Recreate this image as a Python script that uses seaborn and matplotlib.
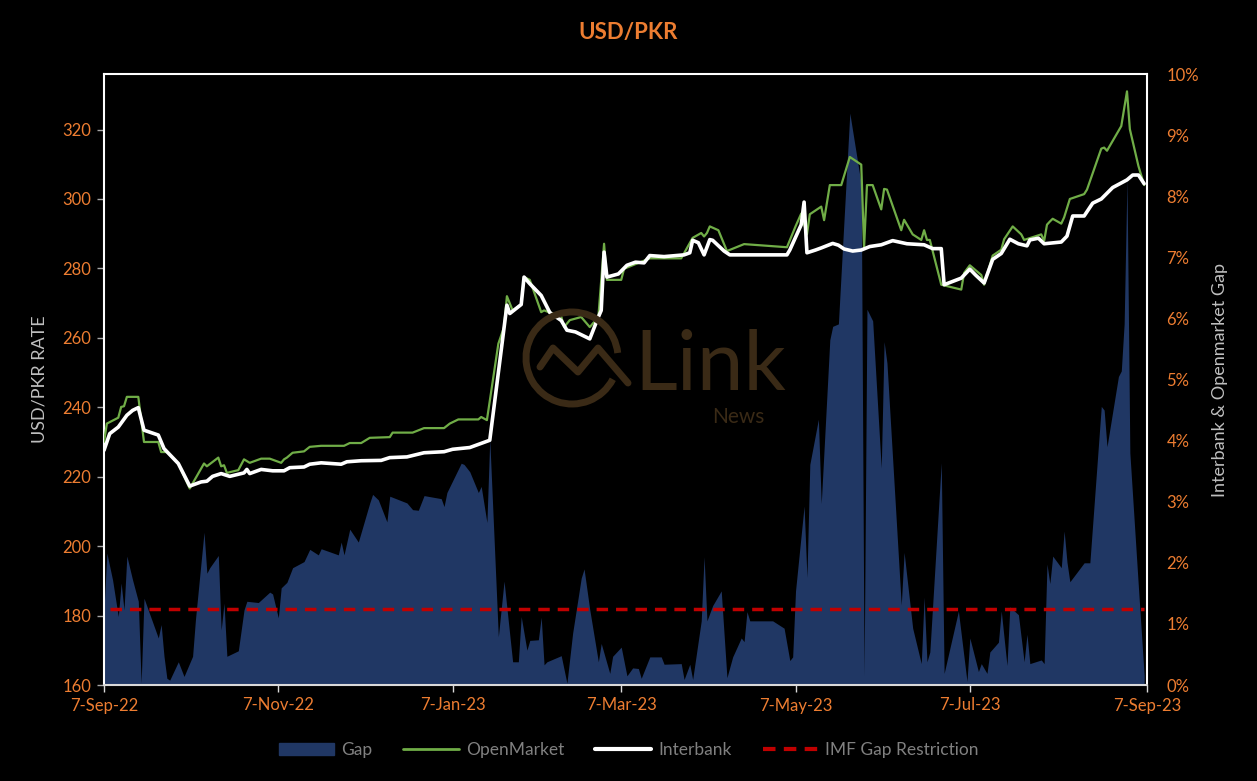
import numpy as np
import pandas as pd
import matplotlib
matplotlib.use("Agg")
import matplotlib.pyplot as plt
from matplotlib.patches import Patch, Arc
from matplotlib.lines import Line2D
import seaborn as sns

START = pd.Timestamp("2022-09-07")

# interbank rate (days after 7-Sep-22, PKR per USD)
inter_day = [0, 2, 5, 8, 10, 12, 14, 19, 21, 26, 30, 34, 36, 38, 41, 44, 49, 50, 51, 55,
             59, 63, 65, 70, 72, 76, 83, 85, 90, 97, 100, 106, 112, 119, 122, 128, 135, 139, 141, 142,
             146, 147, 149, 153, 156, 160, 162, 165, 170, 173, 174, 175, 176, 180, 183, 186, 189, 191, 196, 203,
             205, 206, 208, 210, 212, 213, 217, 219, 239, 240, 244, 245, 246, 249, 251, 255, 257, 259, 262, 265,
             268, 272, 276, 281, 287, 290, 293, 294, 300, 303, 305, 308, 311, 314, 317, 320, 323, 324, 327, 329,
             335, 337, 339, 343, 346, 349, 353, 358, 360, 362, 364]
inter_rate = [227.6, 232.4, 234.3, 237.7, 239.1, 239.9, 233.4, 232.0, 228.1, 223.8, 217.3, 218.5, 218.7, 220.1, 220.9, 220.1, 221.1, 222.1, 220.9, 222.1,
              221.7, 221.7, 222.6, 222.8, 223.6, 224.0, 223.6, 224.3, 224.6, 224.7, 225.5, 225.7, 226.9, 227.2, 227.9, 228.4, 230.5, 256.4, 269.4, 267.0,
              269.6, 277.5, 275.6, 272.2, 267.3, 265.0, 262.2, 261.7, 259.7, 266.0, 267.9, 284.7, 277.5, 278.4, 280.9, 281.8, 281.6, 283.7, 283.4, 283.9,
              284.5, 288.1, 287.4, 283.9, 288.3, 288.1, 285.0, 283.9, 283.9, 285.3, 292.6, 299.1, 284.5, 285.3, 285.9, 287.2, 286.7, 285.6, 285.0, 285.3,
              286.3, 286.8, 288.0, 287.1, 286.8, 285.7, 285.7, 275.3, 277.2, 279.8, 278.1, 275.8, 282.6, 284.3, 288.4, 287.1, 286.5, 288.2, 288.7, 287.1,
              287.6, 289.3, 295.1, 295.1, 298.8, 300.0, 303.3, 305.5, 306.9, 306.9, 304.4]

# open market rate
open_day = [0, 1, 5, 6, 7, 8, 12, 14, 19, 20, 22, 26, 30, 33, 35, 36, 40, 41, 42, 43,
            47, 49, 51, 55, 58, 62, 63, 64, 66, 70, 72, 76, 84, 86, 90, 93, 100, 101, 108, 112,
            119, 121, 124, 131, 132, 134, 138, 140, 141, 143, 146, 147, 149, 153, 154, 156, 160, 161, 163, 167,
            170, 173, 175, 176, 181, 182, 191, 202, 206, 209, 210, 211, 212, 215, 218, 224, 239, 242, 244, 246,
            247, 251, 252, 254, 258, 261, 265, 266, 267, 269, 272, 273, 274, 279, 280, 283, 286, 287, 288, 289,
            293, 300, 301, 303, 307, 308, 311, 314, 315, 318, 321, 322, 328, 329, 330, 331, 332, 335, 336, 338,
            343, 344, 349, 350, 351, 356, 358, 359, 362, 364]
open_rate = [230.0, 235.3, 237.0, 240.1, 240.3, 243.0, 243.0, 230.0, 230.0, 227.1, 227.1, 223.8, 216.6, 220.9, 223.8, 223.0, 225.5, 223.0, 223.3, 221.1,
             221.9, 225.0, 224.0, 225.2, 225.2, 224.0, 225.0, 225.5, 226.9, 227.3, 228.6, 228.9, 228.9, 229.7, 229.7, 231.2, 231.4, 232.7, 232.7, 234.0,
             234.0, 235.3, 236.5, 236.5, 237.2, 236.3, 258.3, 263.1, 272.0, 267.9, 269.6, 277.5, 276.7, 267.4, 267.9, 267.3, 266.2, 263.1, 265.1, 266.0,
             263.1, 266.0, 287.1, 276.7, 276.7, 279.9, 282.9, 282.9, 288.8, 290.2, 289.2, 290.2, 292.1, 291.0, 285.0, 287.0, 286.1, 292.1, 295.8, 289.8,
             295.6, 297.8, 293.9, 304.0, 304.0, 312.1, 309.9, 286.1, 304.0, 304.0, 297.0, 302.9, 302.7, 291.0, 294.0, 289.8, 288.2, 291.0, 288.2, 288.2,
             275.3, 273.9, 278.7, 280.9, 278.1, 275.3, 283.7, 285.4, 288.4, 292.1, 289.8, 288.2, 289.8, 287.9, 292.6, 293.5, 294.3, 292.9, 294.7, 300.0,
             301.4, 302.7, 314.5, 314.8, 313.9, 321.0, 331.0, 320.1, 309.5, 304.0]

# interbank / open market gap in %
gap_day = [0, 1, 3, 5, 6, 7, 8, 10, 12, 13, 14, 19, 20, 21, 22, 23, 26, 28, 31, 32,
           35, 36, 37, 40, 41, 42, 43, 47, 49, 50, 54, 58, 59, 61, 62, 64, 66, 70, 72, 75,
           76, 82, 83, 84, 86, 89, 93, 94, 96, 99, 100, 106, 108, 110, 112, 118, 119, 120, 125, 126,
           128, 131, 132, 134, 135, 138, 140, 143, 145, 146, 148, 149, 152, 153, 154, 155, 160, 162, 164, 167,
           168, 170, 173, 174, 177, 178, 181, 183, 185, 187, 188, 191, 195, 196, 202, 203, 205, 206, 209, 210,
           211, 213, 216, 218, 220, 223, 224, 225, 226, 234, 238, 240, 241, 242, 245, 246, 247, 250, 251, 254,
           255, 257, 261, 265, 266, 267, 269, 272, 273, 274, 279, 280, 283, 286, 287, 288, 289, 293, 294, 299,
           302, 303, 306, 307, 309, 310, 313, 314, 316, 317, 320, 322, 323, 324, 328, 329, 330, 331, 332, 335,
           336, 337, 338, 343, 345, 349, 350, 351, 355, 356, 357, 358, 359, 362, 364]
gap_pct = [1.23, 2.16, 1.72, 1.12, 1.67, 1.23, 2.11, 1.72, 1.37, 0.03, 1.42, 0.77, 0.99, 0.47, 0.11, 0.08, 0.38, 0.14, 0.47, 1.07,
           2.50, 1.83, 1.92, 2.12, 0.90, 1.34, 0.47, 0.56, 1.23, 1.37, 1.35, 1.52, 1.49, 1.10, 1.59, 1.68, 1.92, 2.02, 2.22, 2.13,
           2.23, 2.13, 2.34, 2.13, 2.55, 2.34, 2.98, 3.12, 3.03, 2.67, 3.09, 2.98, 2.87, 2.86, 3.10, 3.05, 2.92, 3.15, 3.63, 3.61,
           3.49, 3.15, 3.25, 2.66, 4.02, 0.79, 1.70, 0.38, 0.38, 1.12, 0.57, 0.73, 0.74, 1.11, 0.33, 0.38, 0.48, 0.03, 0.85, 1.75,
           1.90, 1.23, 0.38, 0.68, 0.19, 0.47, 0.62, 0.15, 0.28, 0.27, 0.11, 0.46, 0.46, 0.34, 0.35, 0.09, 0.34, 0.09, 1.05, 2.10,
           1.05, 1.30, 1.54, 0.12, 0.46, 0.77, 0.71, 1.20, 1.05, 1.05, 0.93, 0.40, 0.46, 1.54, 2.93, 1.76, 3.61, 4.35, 2.97, 5.65,
           5.87, 5.91, 9.36, 8.19, 0.15, 6.15, 5.96, 3.55, 5.62, 5.27, 1.31, 2.17, 0.93, 0.35, 1.44, 0.38, 0.54, 3.64, 0.19, 1.21,
           0.06, 0.77, 0.22, 0.35, 0.19, 0.54, 0.70, 1.21, 0.32, 1.28, 1.15, 0.38, 0.83, 0.35, 0.41, 0.35, 1.98, 1.66, 2.11, 1.92,
           2.52, 2.01, 1.69, 2.00, 2.00, 4.56, 4.50, 3.90, 5.05, 5.14, 5.91, 8.29, 3.80, 1.60, 0.16]

IMF_LIMIT = 1.25

tick_dates = ["2022-09-07", "2022-11-07", "2023-01-07", "2023-03-07", "2023-05-07", "2023-07-07", "2023-09-07"]
tick_labels = ["7-Sep-22", "7-Nov-22", "7-Jan-23", "7-Mar-23", "7-May-23", "7-Jul-23", "7-Sep-23"]

ORANGE = "#ED7D31"
NAVY = "#203764"
GREEN = "#70AD47"
RED = "#C00000"
GREY = "#BFBFBF"
WM = "#3A2A16"

inter_df = pd.DataFrame({"date": START + pd.to_timedelta(inter_day, unit="D"), "rate": inter_rate})
open_df = pd.DataFrame({"date": START + pd.to_timedelta(open_day, unit="D"), "rate": open_rate})
gap_df = pd.DataFrame({"date": START + pd.to_timedelta(gap_day, unit="D"), "gap": gap_pct})
imf_df = pd.DataFrame({"date": [gap_df["date"].iloc[0] + pd.Timedelta(days=2), gap_df["date"].iloc[-1]],
                       "gap": [IMF_LIMIT, IMF_LIMIT]})

sns.set_style("dark", rc={"axes.facecolor": "black", "figure.facecolor": "black"})
plt.rcParams["font.family"] = ["Lato", "DejaVu Sans"]

fig = plt.figure(figsize=(12.57, 7.81), dpi=100)
ax = fig.add_axes([104 / 1257, 1 - 685 / 781, (1147 - 104) / 1257, (685 - 74) / 781])
ax2 = ax.twinx()

# gap area on the secondary axis, behind the rate lines
ax2.fill_between(gap_df["date"], 0, gap_df["gap"], color=NAVY, lw=0, zorder=1)
sns.lineplot(data=imf_df, x="date", y="gap", ax=ax2, color=RED, lw=2.5,
             dashes=False, linestyle=(0, (3.3, 2.3)), zorder=3)

sns.lineplot(data=open_df, x="date", y="rate", ax=ax, color=GREEN, lw=1.6, zorder=3)
sns.lineplot(data=inter_df, x="date", y="rate", ax=ax, color="white", lw=2.6, zorder=4)

ax.set_zorder(ax2.get_zorder() + 1)
ax.patch.set_visible(False)
ax2.set_facecolor("black")

ax.set_xlim(START, pd.Timestamp("2023-09-07"))
ax.set_ylim(160, 336)
ax.set_yticks(range(160, 321, 20))
ax2.set_ylim(0, 10)
ax2.set_yticks(range(0, 11))
ax2.set_yticklabels([f"{v}%" for v in range(0, 11)])
ax.set_xticks(pd.to_datetime(tick_dates))
ax.set_xticklabels(tick_labels)

ax.set_xlabel("")
ax.set_ylabel("USD/PKR RATE", color=GREY, fontsize=13, labelpad=11)
ax2.set_xlabel("")
ax2.set_ylabel("Interbank & Openmarket Gap", color=GREY, fontsize=13, labelpad=9)

ax.tick_params(axis="y", colors="#A6A6A6", labelcolor=ORANGE, labelsize=12, length=5, width=1, left=True, direction="out", pad=4)
ax.tick_params(axis="x", colors="#D9D9D9", labelcolor=ORANGE, labelsize=12, length=5, width=1, bottom=True, direction="out", pad=4)
ax2.tick_params(axis="y", labelcolor=ORANGE, labelsize=12, length=0, pad=14)
ax.grid(False)
ax2.grid(False)

for name in ["left", "top", "right"]:
    ax.spines[name].set_color("white")
    ax.spines[name].set_linewidth(1.5)
    ax.spines[name].set_visible(True)
ax.spines["bottom"].set_color("#D9D9D9")
ax.spines["bottom"].set_linewidth(1.5)
for name in ax2.spines:
    ax2.spines[name].set_visible(False)

fig.text(0.5, 1 - 33 / 781, "USD/PKR", color=ORANGE, fontsize=16, fontweight="bold", ha="center", va="center")

# watermark logo
fig.patches.append(Arc((572 / 1257, 1 - 358 / 781), 92 / 1257, 92 / 781, theta1=10, theta2=320,
                       transform=fig.transFigure, color=WM, lw=5))
fig.lines.append(Line2D(np.array([540, 553, 578, 598, 628]) / 1257,
                        1 - np.array([367, 348, 372, 348, 383]) / 781,
                        transform=fig.transFigure, color=WM, lw=5))
fig.text(634 / 1257, 1 - 390 / 781, "Link", color=WM, fontsize=60, ha="left", va="baseline")
fig.text(712 / 1257, 1 - 423 / 781, "News", color=WM, fontsize=15, ha="left", va="baseline")

handles = [Patch(facecolor=NAVY, edgecolor=NAVY),
           Line2D([], [], color=GREEN, lw=2),
           Line2D([], [], color="white", lw=3),
           Line2D([], [], color=RED, lw=3, linestyle=(0, (3, 2)))]
labels = ["Gap", "OpenMarket", "Interbank", "IMF Gap Restriction"]
fig.legend(handles, labels, loc="center", bbox_to_anchor=(0.5, 1 - 750 / 781), ncol=4, frameon=False,
           fontsize=12.5, labelcolor="#808080", handlelength=3.2, columnspacing=1.8, handletextpad=0.4)

fig.savefig("out.png", dpi=100, facecolor="black")
